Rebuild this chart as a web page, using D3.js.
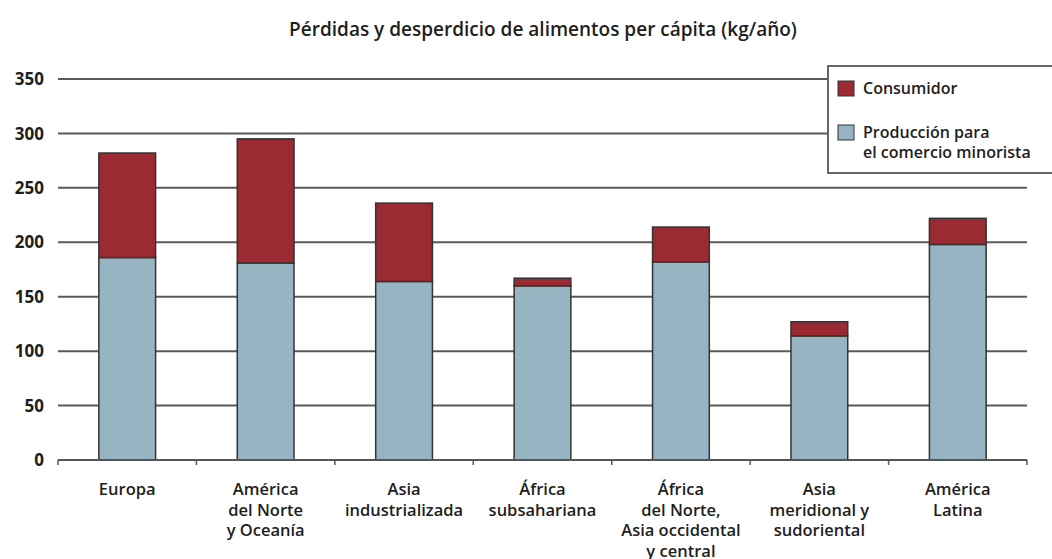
<!DOCTYPE html>
<html>
<head>
<meta charset="utf-8">
<script src="https://cdn.jsdelivr.net/npm/d3@7"></script>
<style>
  body { margin: 0; background: #fff; }
  text { font-family: "Open Sans", "Noto Sans", sans-serif; fill: #1e1e1e; }
</style>
</head>
<body>
<div id="main-container"></div>
<script>
// DATA
const regions = [
    ["Europa"],
    ["América", "del Norte", "y Oceanía"],
    ["Asia", "industrializada"],
    ["África", "subsahariana"],
    ["África", "del Norte,", "Asia occidental", "y central"],
    ["Asia", "meridional y", "sudoriental"],
    ["América", "Latina"]
];
const produccion = [186, 181, 164, 160, 182, 114, 198];
const consumidor = [96, 114, 72, 7, 32, 13, 24];
const yTicks = [0, 50, 100, 150, 200, 250, 300, 350];
const seriesNames = ["Consumidor", "Producción para|el comercio minorista"];
const colours = { consumidor: "#9b2a32", produccion: "#97b4c2" };

// DRAWING SETUP
const W = 1052, H = 559;
const margin = {top: 79, right: 25, bottom: 99, left: 58};
const width = W - margin.left - margin.right,
      height = H - margin.top - margin.bottom;

const svg = d3.select("#main-container")
    .append("svg")
        .attr("width", W)
        .attr("height", H);

svg.append("text")
    .attr("x", 543)
    .attr("y", 36)
    .attr("text-anchor", "middle")
    .style("font-size", "19px")
    .style("font-weight", 600)
    .text("Pérdidas y desperdicio de alimentos per cápita (kg/año)");

const g = svg.append("g")
    .attr("transform", `translate(${margin.left}, ${margin.top})`);

const idx = regions.map((d, i) => i);
const x = d3.scaleBand()
    .range([0, width])
    .domain(idx)
    .padding(0);

const y = d3.scaleLinear()
    .domain([0, 350])
    .range([height, 0]);

// gridlines
g.selectAll(".grid")
    .data(yTicks.filter(d => d > 0))
    .enter()
    .append("line")
    .attr("x1", 0)
    .attr("x2", width)
    .attr("y1", d => y(d))
    .attr("y2", d => y(d))
    .attr("stroke", "#5a5a5a")
    .attr("stroke-width", 2);

// y labels
g.selectAll(".ylab")
    .data(yTicks)
    .enter()
    .append("text")
    .attr("x", -14)
    .attr("y", d => y(d))
    .attr("dy", "0.36em")
    .attr("text-anchor", "end")
    .style("font-size", "17px")
    .style("font-weight", 700)
    .text(d => d);

// bars
const barW = x.bandwidth() * 0.41;
const bars = g.selectAll(".bar")
    .data(idx)
    .enter()
    .append("g");

bars.append("rect")
    .attr("x", i => x(i) + (x.bandwidth() - barW) / 2)
    .attr("y", i => y(produccion[i]))
    .attr("width", barW)
    .attr("height", i => y(0) - y(produccion[i]))
    .attr("fill", colours.produccion)
    .attr("stroke", "#333")
    .attr("stroke-width", 1.5);

bars.append("rect")
    .attr("x", i => x(i) + (x.bandwidth() - barW) / 2)
    .attr("y", i => y(produccion[i] + consumidor[i]))
    .attr("width", barW)
    .attr("height", i => y(produccion[i]) - y(produccion[i] + consumidor[i]))
    .attr("fill", colours.consumidor)
    .attr("stroke", "#333")
    .attr("stroke-width", 1.5);

// x axis
g.append("line")
    .attr("x1", 0).attr("x2", width)
    .attr("y1", height).attr("y2", height)
    .attr("stroke", "#555")
    .attr("stroke-width", 2);

g.selectAll(".xtick")
    .data(d3.range(regions.length + 1))
    .enter()
    .append("line")
    .attr("x1", i => i * x.step())
    .attr("x2", i => i * x.step())
    .attr("y1", height)
    .attr("y2", height + 5)
    .attr("stroke", "#555")
    .attr("stroke-width", 1.5);

const labels = g.selectAll(".xlab")
    .data(idx)
    .enter()
    .append("text")
    .attr("text-anchor", "middle")
    .style("font-size", "16.5px")
    .style("font-weight", 600)
    .attr("transform", i => `translate(${x(i) + x.bandwidth() / 2}, ${height + 35})`);

labels.selectAll("tspan")
    .data(i => regions[i])
    .enter()
    .append("tspan")
    .attr("x", 0)
    .attr("y", (d, j) => j * 20.5)
    .text(d => d);

// legend
const lg = svg.append("g").attr("transform", "translate(828, 66)");
lg.append("rect")
    .attr("x", 0).attr("y", 0)
    .attr("width", 240).attr("height", 107)
    .attr("fill", "#fff")
    .attr("stroke", "#666")
    .attr("stroke-width", 2);

const legItems = [
    {name: seriesNames[0], colour: colours.consumidor, y: 15},
    {name: seriesNames[1], colour: colours.produccion, y: 59}
];
legItems.forEach(item => {
    lg.append("rect")
        .attr("x", 10).attr("y", item.y)
        .attr("width", 16).attr("height", 15)
        .attr("fill", item.colour)
        .attr("stroke", "#333")
        .attr("stroke-width", 1);
    const t = lg.append("text")
        .attr("x", 35)
        .attr("y", item.y + 13)
        .style("font-size", "16px")
        .style("font-weight", 600);
    item.name.split("|").forEach((s, j) => {
        t.append("tspan").attr("x", 35).attr("dy", j ? 20 : 0).text(s);
    });
});
</script>
</body>
</html>
